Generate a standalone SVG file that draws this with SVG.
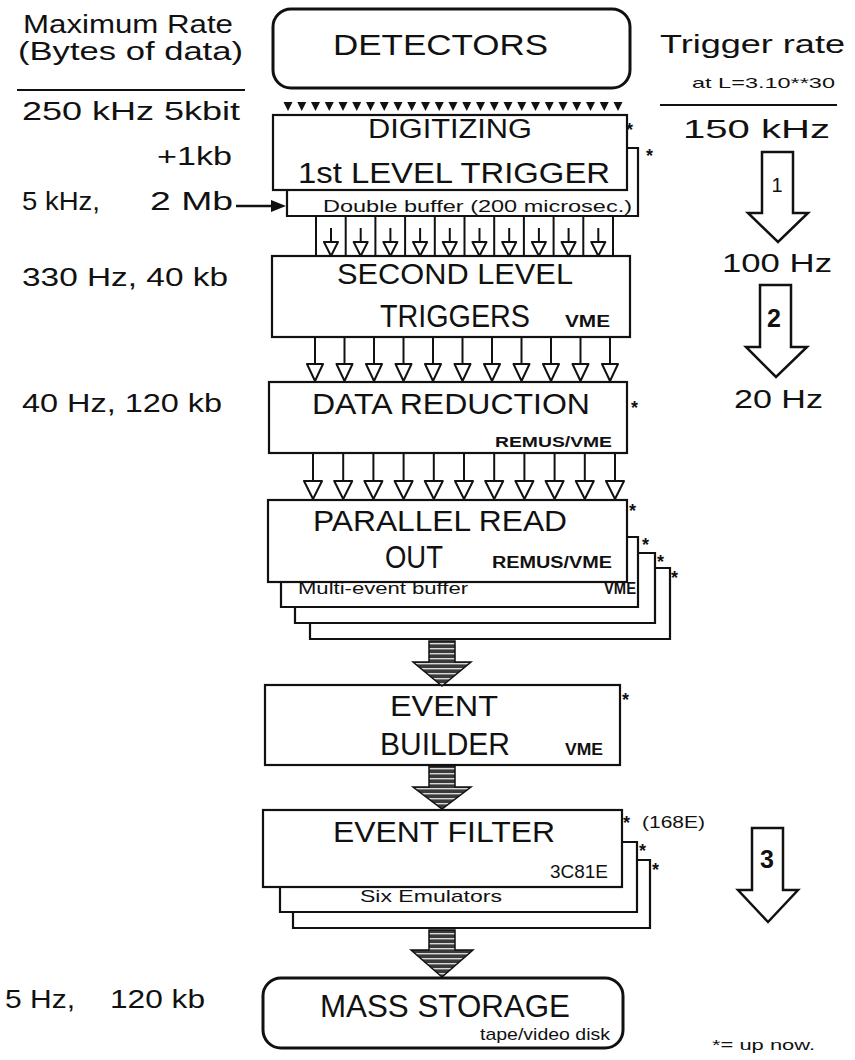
<svg xmlns="http://www.w3.org/2000/svg" xmlns:xlink="http://www.w3.org/1999/xlink" width="855" height="1060" viewBox="0 0 855 1060">
<style>
text{font-family:"Liberation Sans",Arial,sans-serif;fill:#111}
.box{fill:#fff;stroke:#111;stroke-width:2.2}
.rbox{fill:#fff;stroke:#111;stroke-width:3}
.ln{stroke:#111;stroke-width:2;fill:none}
.tri{fill:#fff;stroke:#111;stroke-width:2;stroke-linejoin:round}
.big{font-size:30px}
.lbl{font-size:26px}
.sm{font-size:16px}
.tag{font-size:16px;font-weight:bold}
.ast{font-size:18px;font-weight:bold}
.open{fill:#fff;stroke:#111;stroke-width:2.5;stroke-linejoin:miter}
.hat{fill:url(#hatch);stroke:#111;stroke-width:1.5}
</style>
<defs>
<pattern id="hatch" width="6" height="5" patternUnits="userSpaceOnUse">
<rect width="6" height="5" fill="#3a3a3a"/>
<rect y="3" width="6" height="1.4" fill="#d8d8d8"/>
</pattern>
<path id="t0" d="M-4.5,0 h9 l-4.5,9 z" fill="#111"/>
<g id="a1"><line class="ln" x1="0" y1="228" x2="0" y2="244"/><path class="tri" d="M-7,242 h14 l-7,14 z"/></g>
<g id="a2"><line class="ln" x1="0" y1="338" x2="0" y2="366"/><path class="tri" d="M-8,364 h16 l-8,17 z"/></g>
<g id="a3"><line class="ln" x1="0" y1="454" x2="0" y2="483"/><path class="tri" d="M-9,481 h18 l-9,18 z"/></g>
</defs>
<rect width="855" height="1060" fill="#fff"/>

<g id="left-labels">
<text class="lbl" x="23" y="33" textLength="210" lengthAdjust="spacingAndGlyphs">Maximum Rate</text>
<text class="lbl" x="18" y="60" textLength="225" lengthAdjust="spacingAndGlyphs">(Bytes of data)</text>
<line class="ln" x1="17" y1="90" x2="245" y2="90"/>
<text class="lbl" x="22" y="120" textLength="218" lengthAdjust="spacingAndGlyphs">250 kHz  5kbit</text>
<text class="lbl" x="157" y="165" textLength="75" lengthAdjust="spacingAndGlyphs">+1kb</text>
<text class="lbl" x="22" y="210" textLength="78" lengthAdjust="spacingAndGlyphs">5 kHz,</text>
<text class="lbl" x="150" y="210" textLength="83" lengthAdjust="spacingAndGlyphs">2 Mb</text>
<text class="lbl" x="22" y="286" textLength="206" lengthAdjust="spacingAndGlyphs">330 Hz, 40 kb</text>
<text class="lbl" x="22" y="412" textLength="200" lengthAdjust="spacingAndGlyphs">40 Hz, 120 kb</text>
<text class="lbl" x="5" y="1008" textLength="70" lengthAdjust="spacingAndGlyphs">5 Hz,</text>
<text class="lbl" x="110" y="1008" textLength="95" lengthAdjust="spacingAndGlyphs">120 kb</text>
</g>

<g id="right-labels">
<text class="lbl" x="660" y="53" textLength="185" lengthAdjust="spacingAndGlyphs">Trigger rate</text>
<text style="font-size:15px" x="692" y="88" textLength="143" lengthAdjust="spacingAndGlyphs">at L=3.10**30</text>
<line class="ln" x1="660" y1="105" x2="837" y2="105"/>
<text class="lbl" x="683" y="138" textLength="147" lengthAdjust="spacingAndGlyphs">150 kHz</text>
<text class="lbl" x="722" y="272" textLength="110" lengthAdjust="spacingAndGlyphs">100 Hz</text>
<text class="lbl" x="734" y="408" textLength="89" lengthAdjust="spacingAndGlyphs">20 Hz</text>
<text style="font-size:15px" x="712" y="1050" textLength="103" lengthAdjust="spacingAndGlyphs">*= up now.</text>
</g>

<g id="trigger-arrows">
<path class="open" d="M762,152 H793 V213 H808 L778,242 L748,213 H762 Z"/>
<text x="777" y="192" text-anchor="middle" style="font-size:20px">1</text>
<path class="open" d="M760,285 H791 V347 H807 L776,377 L746,347 H760 Z"/>
<text x="774" y="327" text-anchor="middle" style="font-size:25px;font-weight:bold">2</text>
<path class="open" d="M752,828 H783 V890 H798 L768,922 L738,890 H752 Z"/>
<text x="767" y="868" text-anchor="middle" style="font-size:25px;font-weight:bold">3</text>
</g>

<g id="detectors">
<rect class="rbox" x="273" y="9" width="357" height="79" rx="18"/>
<text class="big" x="333" y="55" textLength="215" lengthAdjust="spacingAndGlyphs">DETECTORS</text>
</g>

<g id="digitizing">
<path class="box" d="M287,148 H638 V216 H287 Z"/>
<rect class="box" x="273" y="115" width="354" height="75"/>
<text style="font-size:27px" x="368" y="138" textLength="164" lengthAdjust="spacingAndGlyphs">DIGITIZING</text>
<text style="font-size:29px" x="298" y="183" textLength="312" lengthAdjust="spacingAndGlyphs">1st LEVEL TRIGGER</text>
<text class="sm" x="323" y="212" textLength="309" lengthAdjust="spacingAndGlyphs">Double buffer (200 microsec.)</text>
<text class="ast" x="626" y="136">*</text>
<text class="ast" x="646" y="162">*</text>
</g>

<g id="second-level">
<rect class="box" x="272" y="256" width="358" height="81"/>
<text class="big" x="337" y="284" textLength="236" lengthAdjust="spacingAndGlyphs">SECOND LEVEL</text>
<text style="font-size:31px" x="380" y="327" textLength="150" lengthAdjust="spacingAndGlyphs">TRIGGERS</text>
<text class="tag" x="565" y="327" textLength="45" lengthAdjust="spacingAndGlyphs">VME</text>
</g>

<g id="data-reduction">
<rect class="box" x="269" y="382" width="358" height="71"/>
<text class="big" x="312" y="414" textLength="278" lengthAdjust="spacingAndGlyphs">DATA REDUCTION</text>
<text style="font-size:15px;font-weight:bold" x="495" y="447" textLength="117" lengthAdjust="spacingAndGlyphs">REMUS/VME</text>
<text class="ast" x="631" y="414">*</text>
</g>

<g id="parallel-readout">
<path class="box" d="M310,568 H670 V639 H310 Z"/>
<path class="box" d="M295,553 H655 V623 H295 Z"/>
<path class="box" d="M281,537 H638 V607 H281 Z"/>
<rect class="box" x="268" y="500" width="359" height="82"/>
<text style="font-size:29px" x="313" y="531" textLength="254" lengthAdjust="spacingAndGlyphs">PARALLEL READ</text>
<text style="font-size:32px" x="385" y="568" textLength="58" lengthAdjust="spacingAndGlyphs">OUT</text>
<text class="tag" x="492" y="568" textLength="120" lengthAdjust="spacingAndGlyphs">REMUS/VME</text>
<text class="sm" x="298" y="594" textLength="170" lengthAdjust="spacingAndGlyphs">Multi-event buffer</text>
<text class="tag" x="604" y="594" textLength="32" lengthAdjust="spacingAndGlyphs">VME</text>
<text class="ast" x="629" y="517">*</text>
<text class="ast" x="642" y="551">*</text>
<text class="ast" x="657" y="568">*</text>
<text class="ast" x="671" y="584">*</text>
</g>

<g id="event-builder">
<rect class="box" x="265" y="685" width="355" height="80"/>
<text class="big" x="390" y="716" textLength="108" lengthAdjust="spacingAndGlyphs">EVENT</text>
<text style="font-size:31px" x="380" y="755" textLength="130" lengthAdjust="spacingAndGlyphs">BUILDER</text>
<text class="tag" x="565" y="755" textLength="38" lengthAdjust="spacingAndGlyphs">VME</text>
<text class="ast" x="622" y="706">*</text>
</g>

<g id="event-filter">
<path class="box" d="M293,860 H650 V928 H293 Z"/>
<path class="box" d="M280,842 H637 V912 H280 Z"/>
<rect class="box" x="263" y="810" width="359" height="77"/>
<text style="font-size:29px" x="333" y="842" textLength="222" lengthAdjust="spacingAndGlyphs">EVENT FILTER</text>
<text style="font-size:18px" x="550" y="878" textLength="58" lengthAdjust="spacingAndGlyphs">3C81E</text>
<text style="font-size:17px" x="360" y="902" textLength="142" lengthAdjust="spacingAndGlyphs">Six Emulators</text>
<text class="ast" x="623" y="829">*</text>
<text style="font-size:17px" x="642" y="828" textLength="63" lengthAdjust="spacingAndGlyphs">(168E)</text>
<text class="ast" x="639" y="857">*</text>
<text class="ast" x="652" y="876">*</text>
</g>

<g id="mass-storage">
<rect class="rbox" x="263" y="978" width="360" height="70" rx="18"/>
<text style="font-size:32px" x="320" y="1017" textLength="250" lengthAdjust="spacingAndGlyphs">MASS STORAGE</text>
<text style="font-size:17px" x="480" y="1040" textLength="130" lengthAdjust="spacingAndGlyphs">tape/video disk</text>
</g>

<g id="connectors">
<g id="det-to-dig">
<use href="#t0" x="288" y="102"/><use href="#t0" x="301.75" y="102"/><use href="#t0" x="315.5" y="102"/><use href="#t0" x="329.25" y="102"/><use href="#t0" x="343" y="102"/><use href="#t0" x="356.75" y="102"/><use href="#t0" x="370.5" y="102"/><use href="#t0" x="384.25" y="102"/><use href="#t0" x="398" y="102"/><use href="#t0" x="411.75" y="102"/><use href="#t0" x="425.5" y="102"/><use href="#t0" x="439.25" y="102"/><use href="#t0" x="453" y="102"/><use href="#t0" x="466.75" y="102"/><use href="#t0" x="480.5" y="102"/><use href="#t0" x="494.25" y="102"/><use href="#t0" x="508" y="102"/><use href="#t0" x="521.75" y="102"/><use href="#t0" x="535.5" y="102"/><use href="#t0" x="549.25" y="102"/><use href="#t0" x="563" y="102"/><use href="#t0" x="576.75" y="102"/><use href="#t0" x="590.5" y="102"/><use href="#t0" x="604.25" y="102"/><use href="#t0" x="618" y="102"/>
</g>
<g id="buf-to-second">
<path class="ln" d="M316,217V256 M345.7,217V256 M375.4,217V256 M405.1,217V256 M434.8,217V256 M464.5,217V256 M494.2,217V256 M523.9,217V256 M553.6,217V256 M583.3,217V256 M613,217V256"/>
<use href="#a1" x="331"/><use href="#a1" x="360.7"/><use href="#a1" x="390.4"/><use href="#a1" x="420.1"/><use href="#a1" x="449.8"/><use href="#a1" x="479.5"/><use href="#a1" x="509.2"/><use href="#a1" x="538.9"/><use href="#a1" x="568.6"/><use href="#a1" x="598.3"/>
</g>
<g id="second-to-data">
<use href="#a2" x="315"/><use href="#a2" x="344.5"/><use href="#a2" x="374"/><use href="#a2" x="403.5"/><use href="#a2" x="433"/><use href="#a2" x="462.5"/><use href="#a2" x="492"/><use href="#a2" x="521.5"/><use href="#a2" x="551"/><use href="#a2" x="580.5"/><use href="#a2" x="610"/>
</g>
<g id="data-to-parallel">
<use href="#a3" x="313"/><use href="#a3" x="343.2"/><use href="#a3" x="373.4"/><use href="#a3" x="403.6"/><use href="#a3" x="433.8"/><use href="#a3" x="464"/><use href="#a3" x="494.2"/><use href="#a3" x="524.4"/><use href="#a3" x="554.6"/><use href="#a3" x="584.8"/><use href="#a3" x="615"/>
</g>
<path class="hat" d="M429,641 H455 V662 H471 L442,686 L413,662 H429 Z"/>
<path class="hat" d="M429,766 H455 V787 H471 L442,809 L413,787 H429 Z"/>
<path class="hat" d="M429,930 H455 V950 H473 L442,977 L411,950 H429 Z"/>
<line class="ln" x1="236" y1="206" x2="274" y2="206" style="stroke-width:2.5"/>
<path d="M271,200 L286,206 L271,212 Z" fill="#111"/>
</g>
</svg>
